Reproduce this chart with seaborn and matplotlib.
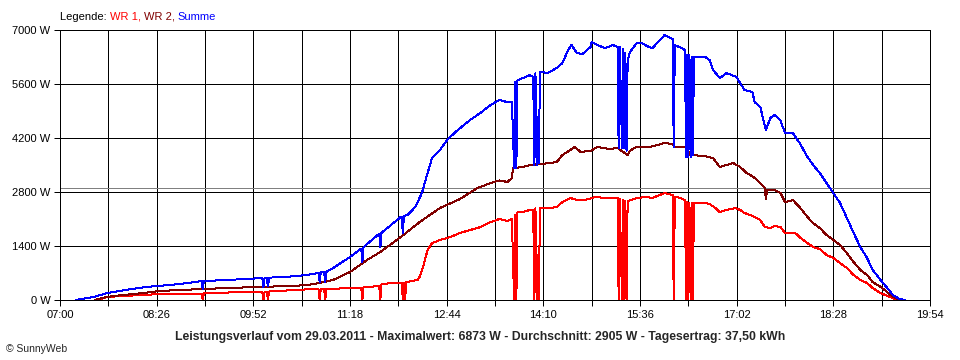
import numpy as np
import pandas as pd
import matplotlib
matplotlib.use('Agg')
import matplotlib.pyplot as plt
from matplotlib.ticker import FixedLocator, FuncFormatter
import seaborn as sns

# --- data (time "HH:MM", power in W) ---
WR1_TIME = ['07:33', '07:42', '08:14', '08:29', '09:06', '09:07', '09:08', '09:46', '10:00', '10:01',
            '10:02', '10:04', '10:05', '10:06', '10:16', '10:34', '10:50', '10:51', '10:52', '10:55',
            '10:56', '10:57', '11:18', '11:28', '11:29', '11:30', '11:44', '11:45', '11:46', '11:54',
            '12:04', '12:05', '12:06', '12:07', '12:08', '12:18', '12:20', '12:23', '12:27', '12:31',
            '12:38', '12:47', '12:56', '13:05', '13:14', '13:23', '13:29', '13:31', '13:38', '13:42',
            '13:43', '13:44', '13:45', '13:46', '13:47', '13:52', '13:58', '14:01', '14:02', '14:03',
            '14:04', '14:05', '14:06', '14:07', '14:16', '14:22', '14:27', '14:34', '14:40', '14:47',
            '14:56', '15:05', '15:16', '15:17', '15:18', '15:20', '15:21', '15:22', '15:23', '15:24',
            '15:25', '15:33', '15:41', '15:47', '15:58', '16:05', '16:06', '16:07', '16:12', '16:16',
            '16:17', '16:18', '16:19', '16:20', '16:21', '16:22', '16:23', '16:24', '16:34', '16:38',
            '16:43', '16:47', '16:53', '17:01', '17:05', '17:09', '17:14', '17:18', '17:23', '17:27',
            '17:32', '17:36', '17:41', '17:45', '17:54', '17:58', '18:05', '18:10', '18:16', '18:22',
            '18:28', '18:34', '18:40', '18:46', '18:52', '18:58', '19:03', '19:10', '19:16', '19:21',
            '19:25']
WR1_W = [0, 80, 130, 155, 155, 0, 180, 205, 205, 0,
         205, 210, 0, 220, 235, 270, 280, 0, 285, 285,
         0, 285, 310, 320, 0, 330, 360, 0, 400, 440,
         445, 0, 455, 0, 465, 520, 600, 855, 1295, 1475,
         1555, 1630, 1740, 1815, 1890, 2020, 2080, 2100, 2050, 2100,
         1090, 0, 2200, 0, 2280, 2280, 2335, 2335, 0, 2380,
         0, 1165, 0, 2385, 2385, 2410, 2540, 2645, 2590, 2590,
         2670, 2645, 2645, 0, 2620, 0, 2600, 0, 2580, 0,
         2565, 2645, 2670, 2645, 2775, 2720, 0, 2680, 2645, 2590,
         0, 2550, 0, 2515, 0, 2515, 0, 2515, 2515, 2490,
         2385, 2280, 2335, 2385, 2335, 2255, 2205, 2150, 2075, 1890,
         1865, 1920, 1890, 1740, 1740, 1630, 1475, 1375, 1320, 1165,
         1090, 960, 830, 650, 520, 440, 310, 180, 105, 50,
         0]

WR2_TIME = ['07:31', '07:42', '07:56', '08:14', '08:29', '08:47', '09:07', '09:29', '09:58', '10:27',
            '10:40', '10:51', '11:03', '11:18', '11:33', '11:45', '12:03', '12:20', '12:38', '12:56',
            '13:11', '13:23', '13:31', '13:38', '13:42', '13:43', '13:52', '13:58', '14:07', '14:16',
            '14:22', '14:27', '14:34', '14:38', '14:43', '14:52', '14:58', '15:09', '15:16', '15:25',
            '15:27', '15:33', '15:45', '15:58', '16:05', '16:07', '16:16', '16:21', '16:34', '16:41',
            '16:47', '16:53', '16:59', '17:05', '17:11', '17:17', '17:23', '17:27', '17:28', '17:29',
            '17:36', '17:41', '17:45', '17:52', '17:58', '18:05', '18:10', '18:16', '18:22', '18:28',
            '18:34', '18:40', '18:46', '18:52', '18:58', '19:03', '19:10', '19:16', '19:21', '19:27']
WR2_W = [0, 80, 130, 180, 235, 260, 285, 310, 340, 365,
         390, 440, 520, 725, 1035, 1245, 1630, 2020, 2385, 2620,
         2900, 3030, 3100, 3060, 3160, 3420, 3450, 3500, 3525, 3550,
         3580, 3760, 3890, 3970, 3840, 3865, 3970, 3915, 3940, 3760,
         3870, 3970, 3970, 4070, 4040, 3970, 3970, 3760, 3730, 3680,
         3450, 3500, 3550, 3450, 3290, 3190, 3030, 2905, 2620, 2850,
         2850, 2775, 2540, 2590, 2410, 2150, 1995, 1865, 1685, 1555,
         1425, 1220, 985, 780, 650, 465, 340, 205, 80, 0]

SUM_TIME = ['07:14', '07:30', '07:42', '08:04', '08:17', '08:26', '08:47', '09:06', '09:07', '09:08',
            '09:29', '09:46', '10:00', '10:01', '10:02', '10:04', '10:05', '10:06', '10:22', '10:40',
            '10:50', '10:51', '10:52', '10:55', '10:56', '10:57', '11:03', '11:18', '11:28', '11:29',
            '11:30', '11:44', '11:45', '11:46', '12:03', '12:04', '12:05', '12:06', '12:09', '12:16',
            '12:22', '12:27', '12:31', '12:38', '12:45', '12:54', '13:05', '13:14', '13:23', '13:31',
            '13:38', '13:42', '13:43', '13:44', '13:45', '13:46', '13:47', '13:52', '13:58', '14:01',
            '14:02', '14:03', '14:04', '14:05', '14:06', '14:07', '14:14', '14:22', '14:27', '14:32',
            '14:35', '14:40', '14:45', '14:52', '14:53', '14:58', '15:05', '15:12', '15:16', '15:17',
            '15:18', '15:20', '15:21', '15:22', '15:23', '15:24', '15:25', '15:27', '15:33', '15:38',
            '15:42', '15:47', '15:58', '16:05', '16:06', '16:07', '16:13', '16:16', '16:17', '16:18',
            '16:19', '16:20', '16:21', '16:22', '16:23', '16:24', '16:34', '16:38', '16:41', '16:47',
            '16:53', '17:02', '17:05', '17:09', '17:16', '17:18', '17:23', '17:28', '17:32', '17:36',
            '17:41', '17:45', '17:52', '17:58', '18:05', '18:10', '18:16', '18:22', '18:28', '18:34',
            '18:40', '18:46', '18:52', '18:58', '19:03', '19:10', '19:16', '19:21', '19:27', '19:32']
SUM_W = [0, 80, 180, 285, 340, 360, 415, 490, 285, 490,
         520, 545, 570, 340, 570, 575, 350, 580, 600, 650,
         700, 465, 725, 725, 470, 730, 830, 1115, 1330, 985,
         1370, 1720, 1375, 1740, 2150, 2150, 1740, 2180, 2200, 2410,
         2775, 3290, 3680, 3890, 4170, 4410, 4670, 4850, 5055, 5185,
         5130, 5130, 4330, 3420, 5650, 3420, 5700, 5755, 5830, 5780,
         3500, 5880, 3500, 4750, 3550, 5910, 5890, 6015, 6145, 6480,
         6610, 6400, 6380, 6560, 6690, 6610, 6530, 6610, 6560, 3940,
         6550, 3940, 6500, 3940, 6400, 3870, 6200, 6430, 6660, 6660,
         6585, 6530, 6873, 6765, 3970, 6610, 6530, 6480, 3710, 6350,
         3710, 6350, 3710, 6300, 3760, 6300, 6300, 6220, 5965, 5755,
         5885, 5780, 5625, 5445, 5390, 5130, 5005, 4410, 4720, 4800,
         4650, 4330, 4330, 4070, 3710, 3500, 3290, 3030, 2775, 2515,
         2125, 1740, 1375, 1090, 780, 520, 310, 130, 25, 0]

SERIES = ['WR 1', 'WR 2', 'Summe']
COLORS = {'WR 1': '#ff0000', 'WR 2': '#800000', 'Summe': '#0000ff'}

DATE = '29.03.2011'
MAX_W = 6873
AVG_W = 2905
YIELD_KWH = '37,50'

X_START, X_END, X_STEP = '07:00', '19:54', 43
Y_MAX, Y_STEP = 7000, 1400

PX = 0.72  # one pixel at 100 dpi, in points


def to_min(s):
    h, m = s.split(':')
    return int(h) * 60 + int(m)


def fmt_time(v, _pos=None):
    v = int(round(v))
    if (v - to_min(X_START)) % (2 * X_STEP):
        return ''
    return f'{v // 60:02d}:{v % 60:02d}'


frames = []
for name, times, vals in [('WR 1', WR1_TIME, WR1_W), ('WR 2', WR2_TIME, WR2_W),
                          ('Summe', SUM_TIME, SUM_W)]:
    frames.append(pd.DataFrame({'t': [to_min(s) for s in times], 'W': vals, 'serie': name}))
df = pd.concat(frames, ignore_index=True)

sns.set_theme(style='white')
plt.rcParams['font.family'] = ['Liberation Sans', 'DejaVu Sans']
plt.rcParams['font.size'] = 8

fig = plt.figure(figsize=(9.6, 3.6), dpi=100)
ax = fig.add_axes([60 / 960, 60 / 360, 870 / 960, 270 / 360])

x0, x1 = to_min(X_START), to_min(X_END)
xt = np.arange(x0, x1 + 1, X_STEP)
yt = np.arange(0, Y_MAX + 1, Y_STEP)

for v in xt:
    ax.axvline(v, color='black', lw=PX, zorder=0.5, antialiased=False)
for v in yt:
    ax.axhline(v, color='black', lw=PX, zorder=0.5, antialiased=False)
ax.axhline(AVG_W, color='#808080', lw=PX, zorder=0.6, antialiased=False)

sns.lineplot(data=df, x='t', y='W', hue='serie', hue_order=SERIES, palette=COLORS,
             legend=False, linewidth=PX, ax=ax, sort=False, estimator=None, antialiased=False)

ax.set_xlim(x0, x1)
ax.set_ylim(0, Y_MAX)
ax.xaxis.set_major_locator(FixedLocator(xt))
ax.xaxis.set_major_formatter(FuncFormatter(fmt_time))
ax.yaxis.set_major_locator(FixedLocator(yt))
ax.yaxis.set_major_formatter(FuncFormatter(lambda v, _p: f'{int(v)} W'))
ax.tick_params(axis='both', which='major', direction='out', length=4, width=PX,
               color='black', labelsize=8, labelcolor='black', pad=3,
               bottom=True, left=True)
ax.set_xlabel('')
ax.set_ylabel('')
for sp in ax.spines.values():
    sp.set_visible(True)
    sp.set_color('black')
    sp.set_linewidth(PX)
    sp.set_antialiased(False)

# legend line in several colours
renderer = fig.canvas.get_renderer()
x = 60 / 960
for s, c in [('Legende: ', 'black'), ('WR 1', COLORS['WR 1']), (', ', COLORS['WR 1']),
             ('WR 2', COLORS['WR 2']), (', ', COLORS['WR 2']), ('Summe', COLORS['Summe'])]:
    t = fig.text(x, 1 - 17 / 360, s, color=c, va='center', ha='left', fontsize=8)
    x += t.get_window_extent(renderer).width / fig.bbox.width

fig.text(0.5, 1 - 337 / 360,
         f'Leistungsverlauf vom {DATE} - Maximalwert: {MAX_W} W - Durchschnitt: {AVG_W} W'
         f' - Tagesertrag: {YIELD_KWH} kWh',
         ha='center', va='center', fontsize=8.8, fontweight='bold')
fig.text(6 / 960, 1 - 349 / 360, '\u00a9 SunnyWeb', ha='left', va='center', fontsize=7.5)

fig.savefig('out.png', dpi=100, facecolor='white')
